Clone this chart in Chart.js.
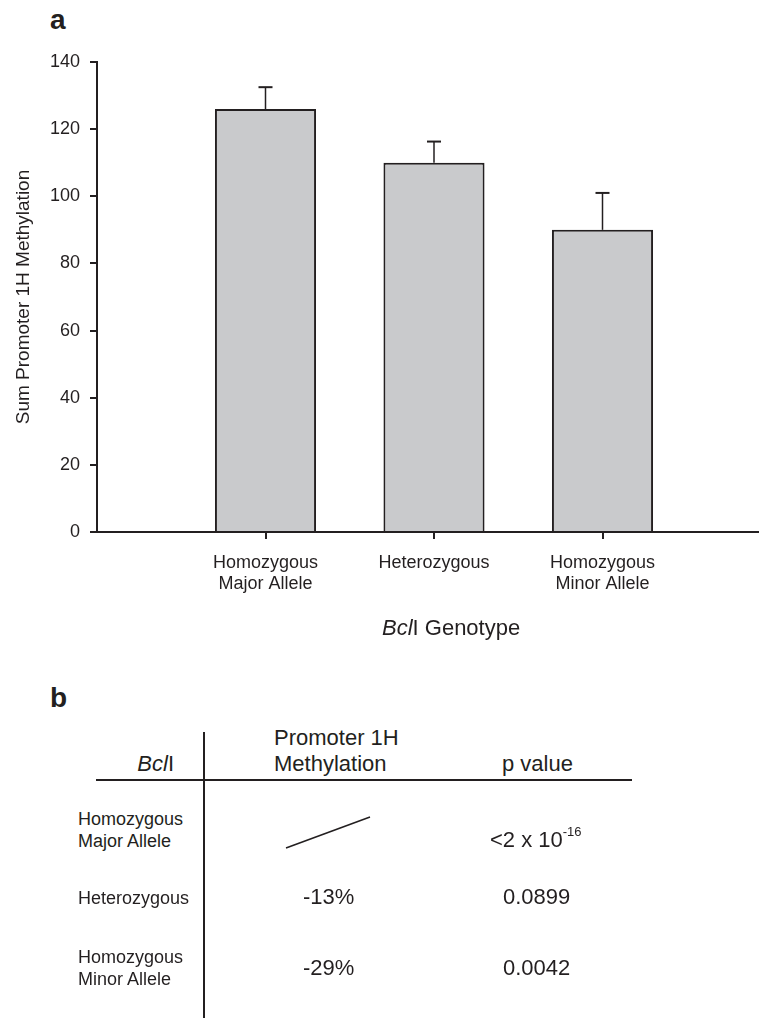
<!DOCTYPE html>
<html>
<head>
<meta charset="utf-8">
<script src="https://cdn.jsdelivr.net/npm/chart.js@4.4.1/dist/chart.umd.min.js"></script>
<style>
  html, body { margin: 0; padding: 0; background: #fff; }
  body { width: 759px; height: 1018px; position: relative; overflow: hidden;
         font-family: "Liberation Sans", Arial, sans-serif; color: #231f20; }
  #wrap { position: absolute; left: 0; top: 0; width: 759px; height: 660px; overflow: hidden; }
  .t { position: absolute; white-space: nowrap; }
  .panel { font-weight: bold; font-size: 28px; line-height: 28px; }
  .hd { font-size: 22px; line-height: 26px; }
  .row { font-size: 18px; line-height: 22px; }
  .rule { position: absolute; background: #231f20; }
</style>
</head>
<body>
<div class="t panel" style="left:50px; top:6px;">a</div>
<div id="wrap"><canvas id="chart" width="790" height="660"></canvas></div>
<div class="t hd" style="left:382px; top:615px;"><i>Bcl</i>I Genotype</div>

<!-- panel b -->
<div class="t panel" style="left:50px; top:684px;">b</div>
<div class="rule" style="left:203px; top:732px; width:2px; height:290px;"></div>
<div class="rule" style="left:96px; top:779px; width:536px; height:2px;"></div>
<div class="t hd" style="right:585px; top:751px;"><i>Bcl</i>I</div>
<div class="t hd" style="left:274px; top:725px;">Promoter 1H</div>
<div class="t hd" style="left:274px; top:751px;">Methylation</div>
<div class="t hd" style="left:502px; top:751px;">p value</div>

<div class="t row" style="left:78px; top:808px;">Homozygous<br>Major Allele</div>
<svg style="position:absolute; left:0; top:0;" width="759" height="1018">
  <line x1="286" y1="848" x2="370" y2="817" stroke="#231f20" stroke-width="1.6"/>
</svg>
<div class="t hd" style="left:490px; top:819px;">&lt;2 x 10<span style="font-size:13px; vertical-align:11px;">-16</span></div>

<div class="t row" style="left:78px; top:887px;">Heterozygous</div>
<div class="t hd" style="left:303px; top:884px;">-13%</div>
<div class="t hd" style="left:503px; top:884px;">0.0899</div>

<div class="t row" style="left:78px; top:946px;">Homozygous<br>Minor Allele</div>
<div class="t hd" style="left:303px; top:955px;">-29%</div>
<div class="t hd" style="left:503px; top:955px;">0.0042</div>

<script>
/* === DATA === */
const genotypes = ["", ["Homozygous", "Major Allele"], "Heterozygous", ["Homozygous", "Minor Allele"], ""];
const meanMethylation = [null, 126, 110, 90, null];
const errorUpper = [null, 132.5, 116.3, 101, null];
const yMin = 0;
const yMax = 140;
const yStep = 20;

const ink = "#231f20";
Chart.defaults.font.family = '"Liberation Sans", Arial, sans-serif';
Chart.defaults.color = ink;

/* === ERROR BARS (upper only) === */
const errorBars = {
  id: "errorBars",
  afterDatasetsDraw(chart) {
    const { ctx, scales: { y } } = chart;
    const meta = chart.getDatasetMeta(0);
    ctx.save();
    ctx.strokeStyle = ink;
    meta.data.forEach((bar, i) => {
      if (errorUpper[i] == null) return;
      const top = y.getPixelForValue(errorUpper[i]);
      ctx.lineWidth = 1.5;
      ctx.beginPath();
      ctx.moveTo(bar.x, bar.y);
      ctx.lineTo(bar.x, top);
      ctx.stroke();
      ctx.lineWidth = 2;
      ctx.beginPath();
      ctx.moveTo(bar.x - 7, top);
      ctx.lineTo(bar.x + 7, top);
      ctx.stroke();
    });
    ctx.restore();
  }
};

new Chart(document.getElementById("chart"), {
  type: "bar",
  data: {
    labels: genotypes,
    datasets: [{
      data: meanMethylation,
      backgroundColor: "#c9cacc",
      borderColor: ink,
      borderWidth: 2,
      barPercentage: 0.6,
      categoryPercentage: 1.0
    }]
  },
  options: {
    responsive: false,
    animation: false,
    devicePixelRatio: 1,
    layout: { padding: { top: 62, right: 19, bottom: 0, left: 0 } },
    plugins: { legend: { display: false }, tooltip: { enabled: false } },
    scales: {
      x: {
        offset: false,
        grid: {
          offset: false,
          drawOnChartArea: false,
          tickLength: 7,
          lineWidth: 2,
          color: (c) => (c.index > 0 && c.index < genotypes.length - 1 ? ink : "rgba(0,0,0,0)")
        },
        border: { color: ink, width: 2 },
        ticks: { font: { size: 18 }, padding: 13, maxRotation: 0, autoSkip: false },
        afterFit(s) { s.height = 128; }
      },
      y: {
        min: yMin,
        max: yMax,
        grid: { drawOnChartArea: false, tickLength: 7, lineWidth: 2, color: ink },
        border: { color: ink, width: 2 },
        ticks: { stepSize: yStep, font: { size: 18 }, padding: 10 },
        title: {
          display: true,
          text: "Sum Promoter 1H Methylation",
          font: { size: 19 },
          padding: { top: 12, bottom: 0 }
        },
        afterFit(s) { s.width = 97; }
      }
    }
  },
  plugins: [errorBars]
});
</script>
</body>
</html>
